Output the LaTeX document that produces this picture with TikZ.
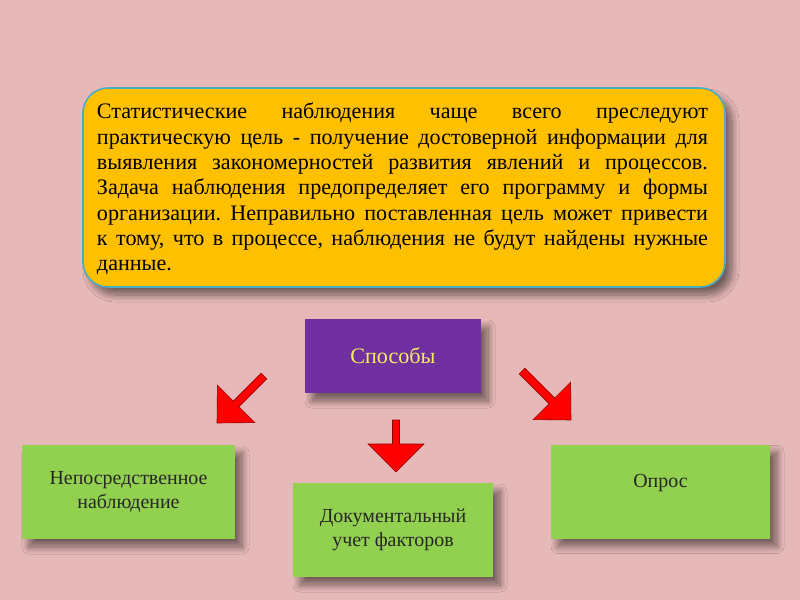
\documentclass[tikz,border=0pt]{standalone}
\usepackage{fontspec}
\setmainfont{Liberation Serif}
\usetikzlibrary{shadows.blur}
\definecolor{bgpink}{RGB}{230,185,184}
\definecolor{topfill}{RGB}{255,192,0}
\definecolor{topborder}{RGB}{75,172,198}
\definecolor{purplefill}{RGB}{112,48,160}
\definecolor{greenfill}{RGB}{146,208,80}
\definecolor{yellowtext}{RGB}{246,236,96}
\definecolor{arrowred}{RGB}{255,0,0}
\definecolor{arrowedge}{RGB}{150,0,0}
\tikzset{
  boxshadow/.style={blur shadow={shadow xshift=7bp, shadow yshift=-8bp, shadow blur steps=12, shadow blur radius=7bp, shadow opacity=50}},
  topbox/.style={draw=topborder, line width=1.6bp, fill=topfill, rounded corners=25bp, boxshadow,
    minimum width=642bp, minimum height=199bp, inner sep=0pt},
  purplebox/.style={fill=purplefill, boxshadow, minimum width=176bp, minimum height=74bp, inner sep=0pt,
    text=yellowtext, font=\fontsize{22.2}{26}\selectfont},
  greenbox/.style={fill=greenfill, boxshadow, minimum height=94bp, inner sep=0pt, align=center,
    text=black!85, font=\fontsize{20}{24}\selectfont},
  blockarrow/.style={fill=arrowred, draw=arrowedge, line width=0.6bp, line join=miter},
}
\frenchspacing
\begin{document}
\begin{tikzpicture}[x=1bp,y=-1bp]
\fill[bgpink] (0,0) rectangle (800,600);
\useasboundingbox (0,0) rectangle (800,600);

\node[topbox] (main) at (404,187.5) {};
\node[text width=611bp, align=justify, inner sep=0pt, font=\frenchspacing\fontsize{22.2}{25.4}\selectfont]
  (maintext) at (402.5,189) {Статистические наблюдения чаще всего преследуют\linebreak
практическую цель - получение достоверной информации для\linebreak
выявления закономерностей развития явлений и процессов.\linebreak
Задача наблюдения предопределяет его программу и формы\linebreak
организации. Неправильно поставленная цель может привести\linebreak
к тому, что в процессе, наблюдения не будут найдены нужные\linebreak
данные.};

\node[purplebox] (sposoby) at (393,356) {Способы};

\node[greenbox, minimum width=213bp] (direct) at (128.5,492) {Непосредственное\\наблюдение};
\node[greenbox, minimum width=200bp] (docs) at (393,530) {Документальный\\учет факторов};
\node[greenbox, minimum width=219bp] (opros) at (660.5,491.5) {};
\node[font=\fontsize{20}{24}\selectfont, text=black!85, inner sep=0pt] (oprostext) at (660.5,483) {Опрос};

% left arrow
\draw[blockarrow] (266.8,378.8) -- (238.9,406.7) -- (254.8,422.6) -- (217,423)
  -- (217.4,385.2) -- (233.3,401.1) -- (261.2,373.2) -- cycle;
% right arrow
\draw[blockarrow] (524.8,368.2) -- (554.7,398.1) -- (570.6,382.2) -- (571,420)
  -- (533.2,419.6) -- (549.1,403.7) -- (519.2,373.8) -- cycle;
% middle arrow
\draw[blockarrow] (392.5,420) -- (399.5,420) -- (399.5,444) -- (424,444) -- (396,472)
  -- (368,444) -- (392.5,444) -- cycle;
\end{tikzpicture}
\end{document}
